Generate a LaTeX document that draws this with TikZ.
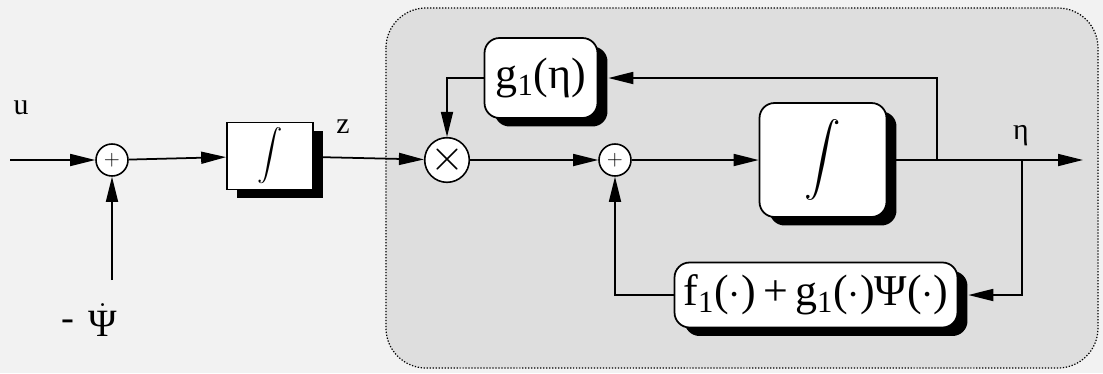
\documentclass[tikz,border=0pt]{standalone}
\usepackage{amsmath}
\usepackage{fontspec}
\setmainfont{Liberation Serif}
\usetikzlibrary{arrows.meta,shadows}
\definecolor{paper}{gray}{0.95}
\definecolor{panel}{gray}{0.87}
\tikzstyle{block}=[draw,line width=1pt,fill=white,inner sep=2pt,
  drop shadow={shadow xshift=0.2cm,shadow yshift=-0.17cm,fill=black,opacity=1}]
\tikzstyle{rblock}=[block,rounded corners=0.3cm]
\tikzstyle{junction}=[circle,draw,line width=0.9pt,fill=white,minimum size=0.64cm,inner sep=0pt]
\tikzstyle{signal}=[draw,line width=1pt,-{Triangle[length=0.5cm,width=0.24cm]}]
\tikzstyle{lbl}=[inner sep=0pt,font=\fontsize{17}{19}\selectfont]

\begin{document}
\begin{tikzpicture}[x=0.02cm,y=-0.02cm]
  % paper and the shaded subsystem
  \fill[paper] (0,0) rectangle (1103,373);
  \draw[panel,fill=panel,rounded corners=0.8cm] (386,8) rectangle (1098,368);
  \draw[densely dotted,line width=0.7pt,rounded corners=0.8cm] (386,8) rectangle (1098,368);

  % blocks
  \node[junction] (sum1) at (112,160) {\fontsize{12}{12}\selectfont$+$};
  \node[block,minimum width=1.72cm,minimum height=1.34cm] (int1) at (270,156)
    {\fontsize{14}{14}\selectfont$\displaystyle\int$};
  \node[junction,minimum size=0.88cm] (mult) at (447,160) {\fontsize{26}{26}\selectfont$\times$};
  \node[rblock,minimum width=2.26cm,minimum height=1.6cm] (gfun) at (541,78)
    {\fontsize{25}{25}\selectfont g\textsubscript{1}(η)};
  \node[junction] (sum2) at (615,160) {\fontsize{12}{12}\selectfont$+$};
  \node[rblock,minimum width=2.54cm,minimum height=2.28cm] (int2) at (823,160)
    {\fontsize{21}{21}\selectfont$\displaystyle\int$};
  \node[rblock,minimum width=5.66cm,minimum height=1.3cm] (ffun) at (816,295)
    {\fontsize{25}{25}\selectfont f\textsubscript{1}($\cdot$)\,+\,g\textsubscript{1}($\cdot$)Ψ($\cdot$)};

  % free ends and taps
  \coordinate (uin) at (10,160);
  \coordinate (psi) at (112,280);
  \coordinate (tapg) at (937,160);
  \coordinate (tapf) at (1022,160);
  \coordinate (out) at (1083,160);

  % signals
  \draw[signal] (uin) -- (sum1);
  \draw[signal] (psi) -- (sum1);
  \draw[signal] (sum1) -- (int1);
  \draw[signal] (int1) -- (mult);
  \draw[signal] (gfun.west) -| (mult);
  \draw[signal] (mult) -- (sum2);
  \draw[signal] (sum2) -- (int2);
  \draw[signal] (int2) -- (out);
  \draw[signal] (tapg) |- ([xshift=0.2cm]gfun.east);
  \draw[signal] (tapf) |- ([xshift=0.2cm]ffun.east);
  \draw[signal] (ffun.west) -| (sum2);

  % labels
  \node[lbl] (ulbl) at (21,108) {u};
  \node[lbl] (zlbl) at (343,127) {z};
  \node[lbl] (etalbl) at (1021,136) {η};
  \node[lbl,font=\fontsize{22}{22}\selectfont] (minus) at (68,325) {-};
  \node[lbl,font=\fontsize{22}{22}\selectfont,anchor=west] (psilbl) at (88,320) {$\dot{\mbox{Ψ}}$};
\end{tikzpicture}
\end{document}
